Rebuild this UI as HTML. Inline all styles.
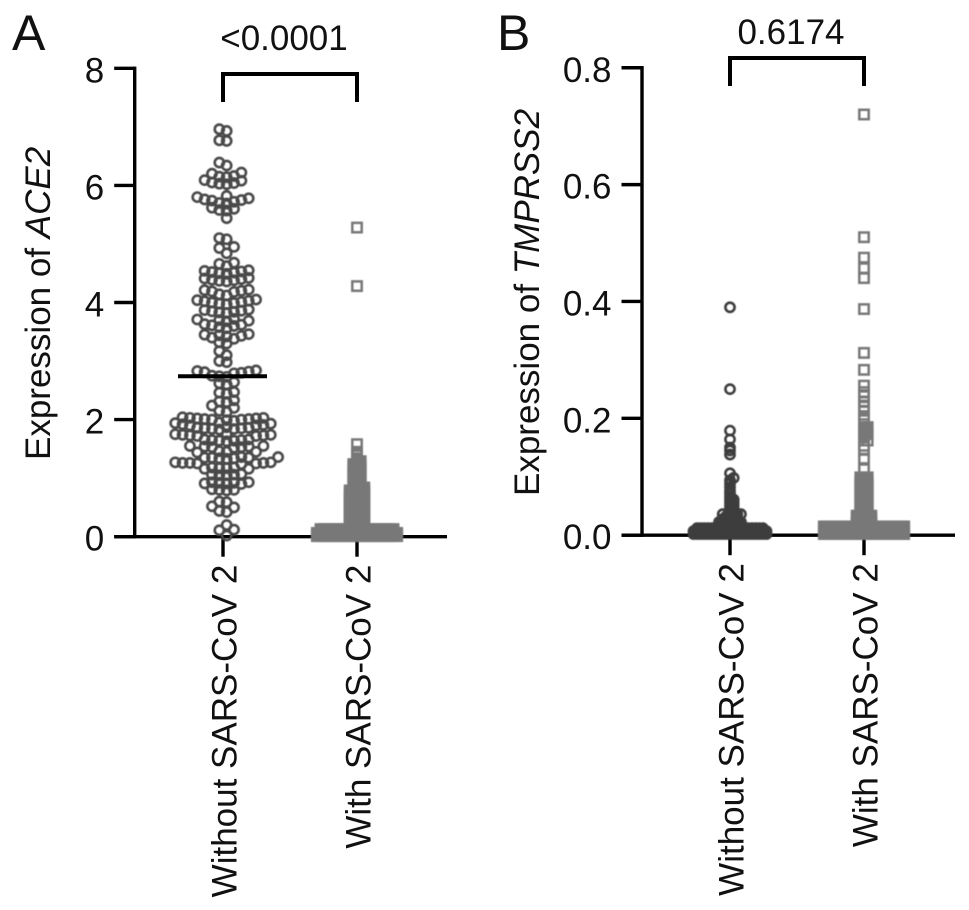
<!DOCTYPE html>
<html lang="en">
<head>
<meta charset="utf-8">
<title>ACE2 and TMPRSS2 expression</title>
<style>
html,body{margin:0;padding:0;background:#fff;width:969px;height:910px;overflow:hidden}
svg{display:block}
text{font-family:"Liberation Sans",Arial,sans-serif;font-size:35px;fill:#111}
.ax{stroke:#000;stroke-width:3.4;fill:none}
.br{stroke:#000;stroke-width:4;fill:none}
.panel{font-size:50px}
</style>
</head>
<body>
<svg id="chart" width="969" height="910" viewBox="0 0 969 910" xmlns="http://www.w3.org/2000/svg">
<defs><filter id="soft" x="-5%" y="-5%" width="110%" height="110%"><feGaussianBlur stdDeviation="0.5"/></filter></defs>
<text class="panel" x="12" y="50">A</text>
<text class="panel" x="497" y="50">B</text>
<g id="panelA"></g>
<g id="panelB"></g>
</svg>
<script>
var categories = ["Without SARS-CoV 2", "With SARS-CoV 2"];
var aceTicks = [0, 2, 4, 6, 8];
var aceTickLabels = ["0", "2", "4", "6", "8"];
var tmprssTicks = [0, 0.2, 0.4, 0.6, 0.8];
var tmprssTickLabels = ["0.0", "0.2", "0.4", "0.6", "0.8"];
var acePValue = "<0.0001";
var tmprssPValue = "0.6174";
var aceMedian = 2.74;

var aceWithout = [6.96,6.93,6.77,6.76,6.39,6.34,6.22,6.2,6.16,6.15,6.14,6.09,6.08,6.05,6.04,6.03,6.02,
5.82,5.8,5.78,5.76,5.75,5.74,5.72,5.7,5.69,5.62,5.6,5.58,5.57,5.44,5.1,5.08,4.95,4.93,4.84,4.68,4.66,4.62,
4.55,4.54,4.53,4.52,4.51,4.5,4.49,4.42,4.41,4.4,4.39,4.38,4.37,4.36,4.22,4.21,4.2,4.19,4.18,4.14,4.12,4.05,4.04,4.03,4.02,4.01,4.0,3.99,3.98,3.97,
3.88,3.87,3.86,3.85,3.84,3.83,3.82,3.72,3.71,3.7,3.69,3.68,3.63,3.62,3.61,3.6,3.58,3.56,3.46,3.45,3.44,3.43,3.42,3.4,3.38,3.32,3.3,3.17,3.1,3.0,2.98,
2.84,2.83,2.82,2.81,2.8,2.79,2.75,2.74,2.73,2.64,2.62,2.6,2.47,2.46,2.44,2.33,2.31,2.3,2.24,2.2,2.15,2.13,
2.04,2.03,2.03,2.02,2.02,2.01,2.01,2.0,2.0,1.99,1.98,1.95,1.94,1.93,1.92,1.91,1.9,1.9,1.87,1.86,1.86,1.85,1.85,1.84,1.84,1.83,
1.75,1.75,1.74,1.74,1.73,1.73,1.72,1.72,1.66,1.66,1.65,1.65,1.64,1.64,1.63,1.55,1.55,1.54,1.54,1.53,1.53,1.52,
1.46,1.45,1.45,1.44,1.36,1.36,1.35,1.35,1.35,1.34,1.34,1.33,1.27,1.27,1.26,1.26,1.26,1.25,1.25,1.24,
1.18,1.18,1.17,1.17,1.16,1.16,1.07,1.06,1.06,1.05,1.05,0.93,0.93,0.92,0.92,0.91,0.91,0.9,0.81,0.8,0.8,0.79,0.6,0.59,0.52,0.5,0.44,0.42,0.2,0.12,0.11,0.02];

var aceWith = [5.28,4.28,1.58,1.45,1.39,1.34,
1.29,1.29,1.24,1.24,1.24,1.19,1.19,1.19,1.14,1.14,1.14,1.09,1.09,1.09,1.04,1.04,1.04,0.99,0.99,0.99,0.94,0.94,0.94,0.89,0.89,0.89,
0.84,0.84,0.84,0.84,0.79,0.79,0.79,0.79,0.79,0.74,0.74,0.74,0.74,0.74,0.69,0.69,0.69,0.69,0.69,0.64,0.64,0.64,0.64,0.64,
0.59,0.59,0.59,0.59,0.59,0.54,0.54,0.54,0.54,0.54,0.49,0.49,0.49,0.49,0.49,0.44,0.44,0.44,0.44,0.44,0.39,0.39,0.39,0.39,0.39,
0.34,0.34,0.34,0.34,0.34,0.29,0.29,0.29,0.29,0.29,0.24,0.24,0.24,0.24,0.24,0.19,0.19,0.19,0.19,0.19,
0.01,0.01,0.01,0.01,0.01,0.01,0.01,0.01,0.01,0.01,0.01,0.01,0.01,0.01,0.01,0.01,0.01,0.01,0.01,0.01,0.01,0.01,0.01,
0.065,0.065,0.065,0.065,0.065,0.065,0.065,0.065,0.065,0.065,0.065,0.065,0.065,0.065,0.065,0.065,0.065,0.065,0.065,0.065,0.065,0.065,0.065,
0.13,0.13,0.13,0.13,0.13,0.13,0.13,0.13,0.13,0.13,0.13,0.13,0.13,0.13,0.13,0.13,0.13,0.13,0.13,0.13,0.13];

var tmprssWithout = [0.39,0.25,0.179,0.164,0.15,0.145,0.138,0.106,0.098,0.094,0.088,0.082,0.076,0.071,0.066,0.061,0.061,0.056,0.056,0.051,0.051,0.046,0.046,0.041,0.041,0.036,0.036,0.036,
0.0325,0.0325,0.0325,0.0275,0.0275,0.0275,0.0275,0.0275,0.0225,0.0225,0.0225,0.0225,0.0225,0.0225,0.0225,
0.002,0.002,0.002,0.002,0.002,0.002,0.002,0.002,0.002,0.002,0.002,0.002,0.002,0.002,0.002,0.002,0.002,0.002,0.002,0.002,0.002,
0.007,0.007,0.007,0.007,0.007,0.007,0.007,0.007,0.007,0.007,0.007,0.007,0.007,0.007,0.007,0.007,0.007,0.007,0.007,0.007,0.007,
0.012,0.012,0.012,0.012,0.012,0.012,0.012,0.012,0.012,0.012,0.012,0.012,0.012,0.012,0.012,0.012,0.012,0.012,0.012,
0.0175,0.0175,0.0175,0.0175,0.0175,0.0175,0.0175];

var tmprssWith = [0.72,0.51,0.475,0.457,0.44,0.387,0.312,0.283,0.256,0.245,0.238,0.228,0.22,0.213,0.2,
0.19,0.185,0.185,0.179,0.173,0.173,0.167,0.162,0.162,0.153,0.146,0.131,0.113,
0.099,0.099,0.099,0.094,0.094,0.094,0.089,0.089,0.089,0.084,0.084,0.084,0.079,0.079,0.079,0.074,0.074,0.074,0.069,0.069,0.069,0.064,0.064,0.064,0.059,0.059,0.059,0.054,0.054,0.054,0.049,0.049,0.049,0.044,0.044,0.044,0.039,0.039,0.039,
0.0335,0.0335,0.0335,0.0335,0.0335,0.0285,0.0285,0.0285,0.0285,0.0285,0.0215,0.0215,0.0215,0.0215,0.0215,
0.002,0.002,0.002,0.002,0.002,0.002,0.002,0.002,0.002,0.002,0.002,0.002,0.002,0.002,0.002,0.002,0.002,0.002,0.002,0.002,0.002,0.002,0.002,
0.009,0.009,0.009,0.009,0.009,0.009,0.009,0.009,0.009,0.009,0.009,0.009,0.009,0.009,0.009,0.009,0.009,0.009,0.009,0.009,0.009,0.009,0.009,
0.015,0.015,0.015,0.015,0.015,0.015,0.015,0.015,0.015,0.015,0.015,0.015,0.015,0.015,0.015,0.015,0.015,0.015,0.015,0.015,0.015,0.015,0.015];

var NS = "http://www.w3.org/2000/svg";

function make(parent, tag, attrs, txt) {
  var el = document.createElementNS(NS, tag);
  for (var k in attrs) el.setAttribute(k, attrs[k]);
  if (txt !== undefined) el.textContent = txt;
  parent.appendChild(el);
  return el;
}

// Column-based swarm: each point goes to the nearest free column around the category centre.
function swarm(values, yScale, step, minDy, halfStep) {
  var sorted = values.slice().sort(function (a, b) { return a - b; });
  var cols = {};
  var out = [];
  sorted.forEach(function (v) {
    var y = yScale(v);
    for (var i = 0; i < 200; i++) {
      var k = i === 0 ? 0 : (i % 2 ? (halfStep ? -(i + 1) / 2 : (i + 1) / 2) : (halfStep ? i / 2 : -i / 2));
      var list = cols[k] || (cols[k] = []);
      var free = list.every(function (o) { return Math.abs(o - y) >= minDy; });
      if (free) {
        list.push(y);
        out.push({ x: (k + (halfStep ? 0.5 : 0)) * step, y: y });
        break;
      }
    }
  });
  // Heavily overlapped points merge into a solid mass, as in the source figure.
  out.forEach(function (p) {
    var n = 0;
    out.forEach(function (q) {
      if (q !== p && Math.abs(q.x - p.x) < 4.5 && Math.abs(q.y - p.y) < 4.5) n++;
    });
    p.crowded = n >= 3;
  });
  return out;
}

function drawAxes(g, cfg) {
  make(g, "line", { "class": "ax",   x1: cfg.axisX, x2: cfg.axisX, y1: cfg.y(cfg.ticks[cfg.ticks.length - 1]) - 1.7, y2: cfg.y0 + 1.7 });
  make(g, "line", { "class": "ax",   x1: cfg.axisX - 20.5, x2: cfg.axisEnd, y1: cfg.y0, y2: cfg.y0 });
  cfg.ticks.forEach(function (t, i) {
    make(g, "line", { "class": "ax",   x1: cfg.axisX - 20.5, x2: cfg.axisX, y1: cfg.y(t), y2: cfg.y(t) });
    make(g, "text", {   x: cfg.axisX - 30.5, y: cfg.y(t) + 14, "text-anchor": "end" }, cfg.tickLabels[i]);
  });
  categories.forEach(function (c, i) {
    var cx = cfg.cats[i];
    make(g, "line", { "class": "ax",   x1: cx, x2: cx, y1: cfg.y0, y2: cfg.y0 + 20 });
    make(g, "text", {   transform: "translate(" + (cx + 13.5) + " " + (cfg.y0 + 28) + ") rotate(-90)", "text-anchor": "end" }, c);
  });
  var label = make(g, "text", {   transform: "translate(" + cfg.labelX + " " + cfg.labelY + ") rotate(-90)" });
  var a = document.createElementNS(NS, "tspan");
  a.textContent = "Expression of ";
  label.appendChild(a);
  var b = document.createElementNS(NS, "tspan");
  b.setAttribute("font-style", "italic");
  b.textContent = cfg.gene;
  label.appendChild(b);
  make(g, "path", { "class": "br",   d: "M" + cfg.cats[0] + " " + cfg.brDrop + "V" + cfg.brTop + "H" + cfg.cats[1] + "V" + cfg.brDrop });
  make(g, "text", {   x: (cfg.cats[0] + cfg.cats[1]) / 2 - 6, y: cfg.pY, "text-anchor": "middle" }, cfg.p);
}

function drawCircles(g, pts, cx, color) {
  pts.forEach(function (p) {
    var c = make(g, "circle", { cx: cx + p.x, cy: p.y, r: 4.6, fill: p.crowded ? color : "none", stroke: color, "stroke-width": 2.6 });
    
    
  });
}

function drawSquares(g, pts, cx, color) {
  pts.forEach(function (p) {
    var r = make(g, "rect", { x: cx + p.x - 4.7, y: p.y - 4.7, width: 9.4, height: 9.4, fill: p.crowded ? color : "none", stroke: color, "stroke-width": 2.5 });
    
    
  });
}

// Panel A
var yA = function (v) { return 536.7 - 58.55 * v; };
var gA = document.getElementById("panelA");
drawAxes(gA, { y: yA, y0: 536.7, ticks: aceTicks, tickLabels: aceTickLabels, axisX: 134.7, axisEnd: 447, cats: [223, 357], labelX: 50, labelY: 460, gene: "ACE2", brTop: 74, brDrop: 102, pY: 50, p: acePValue });
var mA = make(gA, "g", { filter: "url(#soft)" });


drawCircles(mA, swarm(aceWithout, yA, 7.35, 7, true), 223, "#484848");
drawSquares(mA, swarm(aceWith, yA, 3.65, 2.8, false), 357, "#787878");
var med = make(gA, "line", { x1: 178, x2: 267, y1: yA(aceMedian), y2: yA(aceMedian), stroke: "#000", "stroke-width": 4 });



// Panel B
var yB = function (v) { return 535.2 - 584.3 * v; };
var gB = document.getElementById("panelB");
drawAxes(gB, { y: yB, y0: 535.2, ticks: tmprssTicks, tickLabels: tmprssTickLabels, axisX: 642, axisEnd: 955, cats: [730, 864], labelX: 539, labelY: 496, gene: "TMPRSS2", brTop: 58, brDrop: 86, pY: 44, p: tmprssPValue });
var mB = make(gB, "g", { filter: "url(#soft)" });


drawCircles(mB, swarm(tmprssWithout, yB, 3.65, 2.8, false), 730, "#3c3c3c");
drawSquares(mB, swarm(tmprssWith, yB, 3.65, 2.8, false), 864, "#787878");
</script>
</body>
</html>
